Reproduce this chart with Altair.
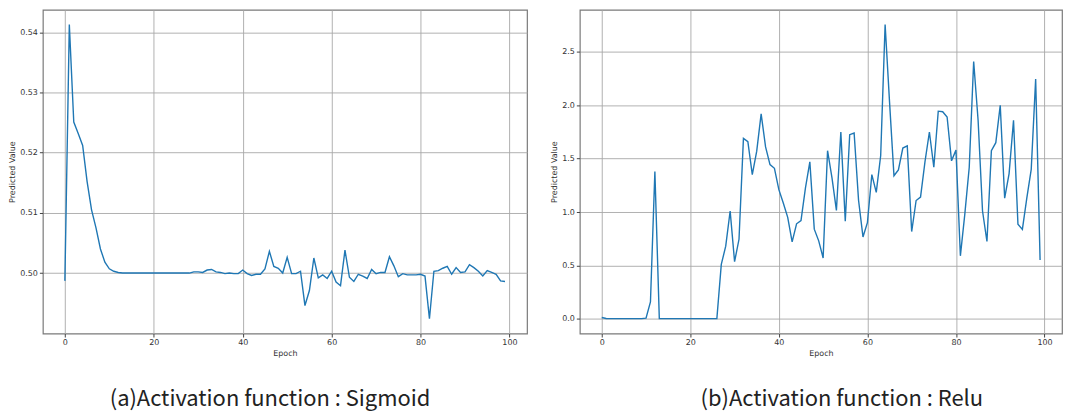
import altair as alt
import pandas as pd

epochs = list(range(100))

sigmoid_values = [
    0.4987, 0.5413, 0.5251, 0.5232, 0.5212, 0.5152, 0.5105, 0.5075, 0.5040, 0.5018,
    0.5007, 0.5003, 0.5001, 0.5000, 0.5000, 0.5000, 0.5000, 0.5000, 0.5000, 0.5000,
    0.5000, 0.5000, 0.5000, 0.5000, 0.5000, 0.5000, 0.5000, 0.5000, 0.5000, 0.5002,
    0.5002, 0.5001, 0.5005, 0.5006, 0.5002, 0.5001, 0.4999, 0.5000, 0.4999, 0.4999,
    0.5005, 0.4999, 0.4996, 0.4998, 0.4998, 0.5007, 0.5036, 0.5011, 0.5008, 0.5000,
    0.5026, 0.4999, 0.4999, 0.5003, 0.4946, 0.4971, 0.5025, 0.4992, 0.4997, 0.4991,
    0.5003, 0.4985, 0.4979, 0.5038, 0.4993, 0.4986, 0.4998, 0.4995, 0.4991, 0.5006,
    0.4999, 0.5001, 0.5001, 0.5027, 0.5012, 0.4994, 0.4999, 0.4997, 0.4997, 0.4997,
    0.4998, 0.4995, 0.4924, 0.5003, 0.5004, 0.5008, 0.5011, 0.4998, 0.5009, 0.5001,
    0.5002, 0.5014, 0.5009, 0.5003, 0.4995, 0.5004, 0.5001, 0.4998, 0.4987, 0.4986,
]

relu_values = [
    0.012, 0.003, 0.002, 0.002, 0.002, 0.002, 0.002, 0.002, 0.002, 0.002,
    0.006, 0.158, 1.380, 0.003, 0.002, 0.002, 0.002, 0.002, 0.002, 0.002,
    0.002, 0.002, 0.002, 0.002, 0.002, 0.002, 0.002, 0.510, 0.680, 1.010,
    0.535, 0.745, 1.690, 1.660, 1.350, 1.570, 1.920, 1.610, 1.445, 1.410,
    1.210, 1.085, 0.950, 0.720, 0.890, 0.920, 1.225, 1.470, 0.840, 0.730,
    0.570, 1.575, 1.320, 1.015, 1.750, 0.915, 1.725, 1.740, 1.110, 0.767,
    0.900, 1.350, 1.185, 1.530, 2.757, 2.030, 1.340, 1.395, 1.600, 1.620,
    0.817, 1.108, 1.140, 1.470, 1.750, 1.420, 1.945, 1.940, 1.890, 1.480,
    1.580, 0.590, 0.980, 1.420, 2.410, 1.860, 1.010, 0.724, 1.575, 1.650,
    2.000, 1.130, 1.360, 1.860, 0.885, 0.838, 1.130, 1.400, 2.246, 0.550,
]

x_ticks = [0, 20, 40, 60, 80, 100]
sigmoid_ticks = [0.50, 0.51, 0.52, 0.53, 0.54]
relu_ticks = [0.0, 0.5, 1.0, 1.5, 2.0, 2.5]

captions = ["(a)Activation function : Sigmoid", "(b)Activation function : Relu"]

LINE = "#1f77b4"
CAPTION_FONT = "Noto Sans CJK JP"


def panel(values, y_domain, y_ticks, y_format, caption, width, dx):
    df = pd.DataFrame({"Epoch": epochs, "Value": values})
    return (
        alt.Chart(df)
        .mark_line(color=LINE, strokeWidth=1.4, clip=True)
        .encode(
            x=alt.X(
                "Epoch:Q",
                title="Epoch",
                scale=alt.Scale(domain=[-4.95, 103.95], nice=False, zero=False),
                axis=alt.Axis(values=x_ticks, format="d"),
            ),
            y=alt.Y(
                "Value:Q",
                title="Predicted Value",
                scale=alt.Scale(domain=y_domain, nice=False, zero=False),
                axis=alt.Axis(values=y_ticks, format=y_format),
            ),
        )
        .properties(
            width=width,
            height=325,
            title=alt.TitleParams(
                caption,
                orient="bottom",
                anchor="middle",
                frame="group",
                dx=dx,
                offset=31,
                font=CAPTION_FONT,
                fontSize=22,
                fontWeight="normal",
                color="#222222",
            ),
        )
    )


left = panel(sigmoid_values, [0.48995, 0.54375], sigmoid_ticks, ".2f", captions[0], 486, -15)
right = panel(relu_values, [-0.138, 2.895], relu_ticks, ".1f", captions[1], 484, 21)

chart = (
    alt.hconcat(left, right, spacing=22)
    .properties(padding=0, background="white")
    .configure_view(stroke="#7a7a7a", strokeWidth=1.2)
    .configure_axis(
        domain=False,
        grid=True,
        gridColor="#a8a8a8",
        gridWidth=0.9,
        tickColor="#444444",
        tickSize=3.5,
        labelFont="DejaVu Sans",
        labelFontSize=8,
        labelColor="#333333",
        labelPadding=2,
        titleFont="DejaVu Sans",
        titleFontSize=8,
        titleFontWeight="normal",
        titleColor="#333333",
        titlePadding=3,
    )
)

chart.save("out.html", embed_options={"renderer": "svg", "actions": False})
